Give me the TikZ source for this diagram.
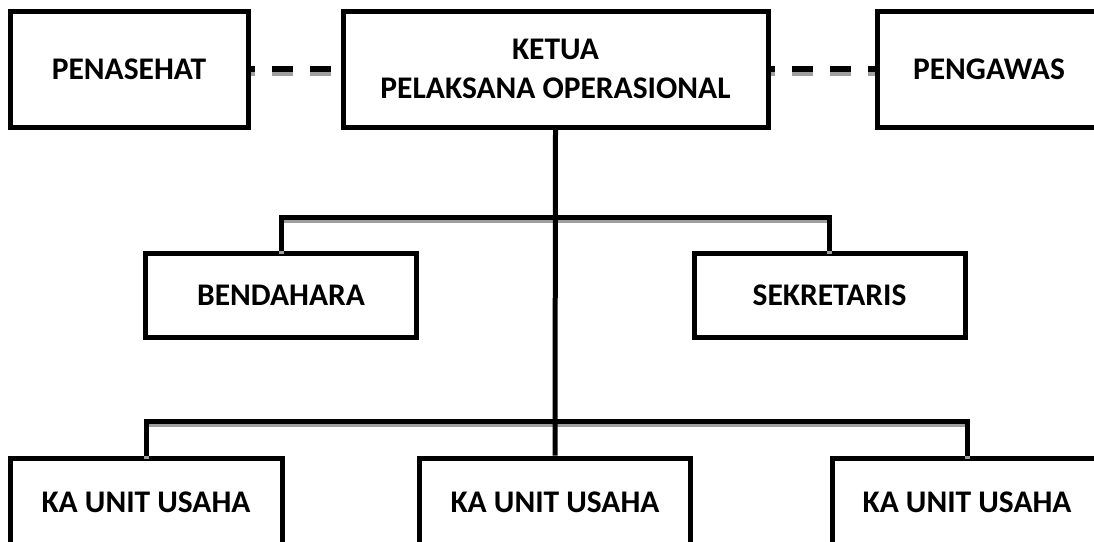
\documentclass[tikz,border=0pt]{standalone}
\usepackage{fontspec}
\setmainfont{Carlito}
\usepackage{tikz}
\usetikzlibrary{positioning}

\tikzset{
  box/.style={draw, line width=5pt, fill=white, align=center, inner sep=0pt,
    font=\bfseries\fontsize{31.5}{39}\selectfont},
  link/.style={draw, line width=5pt,
    preaction={draw=gray!75, line width=5pt, transform canvas={yshift=-3.5pt}}},
  dashlink/.style={draw, line width=6pt, dash pattern=on 21pt off 17pt, dash phase=17pt,
    preaction={draw=gray!75, line width=6pt, dash pattern=on 21pt off 17pt, dash phase=17pt,
      transform canvas={yshift=-3.5pt}}},
}

\begin{document}
\begin{tikzpicture}[x=1pt,y=-1pt]
\useasboundingbox (0,0) rectangle (1094,541);

% top row
\node[box, minimum width=238pt, minimum height=116pt] (penasehat) at (129,69) {PENASEHAT};
\node[box, minimum width=425pt, minimum height=116pt] (ketua) at (555.5,69) {KETUA\\PELAKSANA OPERASIONAL};
\node[box, minimum width=224pt, minimum height=116pt] (pengawas) at (989,69) {PENGAWAS};

% middle row
\node[box, minimum width=271pt, minimum height=84pt] (bendahara) at (281,295) {BENDAHARA};
\node[box, minimum width=271pt, minimum height=84pt] (sekretaris) at (829.5,295) {SEKRETARIS};

% bottom row
\node[box, minimum width=272pt, minimum height=88pt] (unit1) at (146,502) {KA UNIT USAHA};
\node[box, minimum width=271pt, minimum height=88pt] (unit2) at (555,502) {KA UNIT USAHA};
\node[box, minimum width=270pt, minimum height=88pt] (unit3) at (967,502) {KA UNIT USAHA};

\coordinate (j1) at (555,217);
\coordinate (j2) at (555,421);

\draw[dashlink] (penasehat.east) -- (ketua.west);
\draw[dashlink] (ketua.east) -- (pengawas.west);

\draw[link] (bendahara.north) |- (j1) -| (sekretaris.north);
\draw[link] (unit1.north) |- (j2) -| (unit3.north);
\draw[line width=5pt] (ketua.south) -- (unit2.north);

\end{tikzpicture}
\end{document}
